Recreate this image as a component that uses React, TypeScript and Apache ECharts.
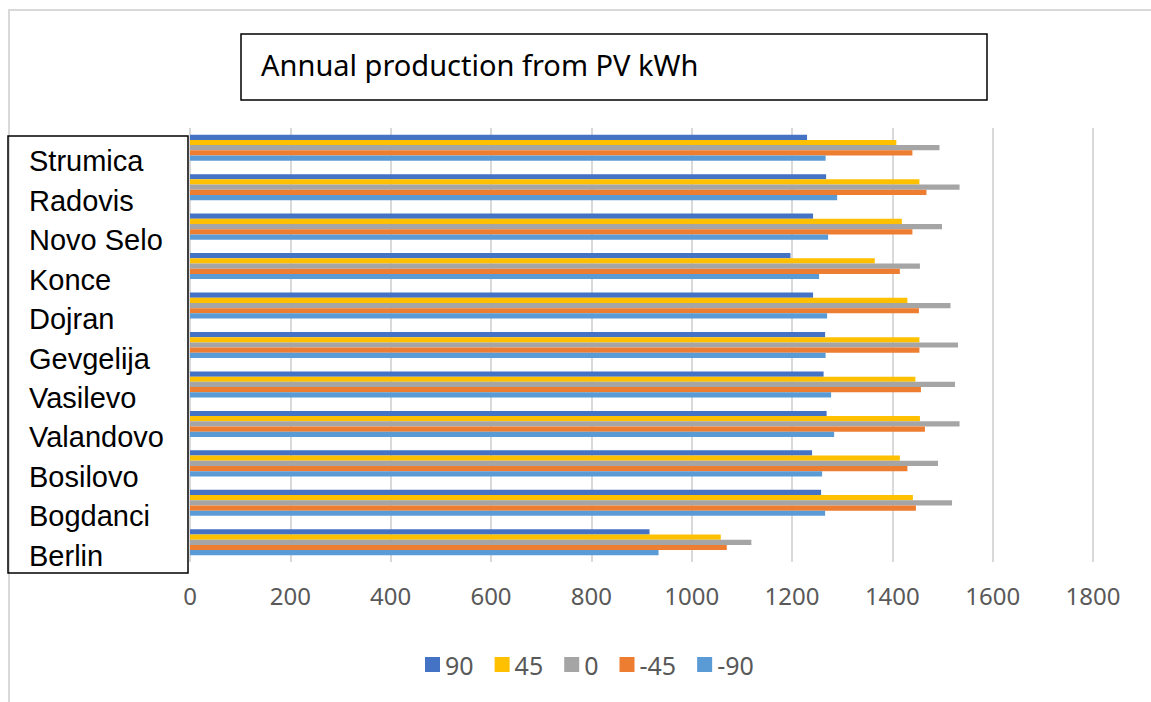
import React, { useEffect, useRef } from "react";
import * as echarts from "echarts";

// Towns, listed top to bottom
const towns = [
  "Strumica",
  "Radovis",
  "Novo Selo",
  "Konce",
  "Dojran",
  "Gevgelija",
  "Vasilevo",
  "Valandovo",
  "Bosilovo",
  "Bogdanci",
  "Berlin",
];

// Panel tilt/orientation series names
const seriesNames = ["90", "45", "0", "-45", "-90"];

// Annual production (kWh) per town, one array per orientation
const prod90 = [1230, 1268, 1242, 1197, 1242, 1266, 1263, 1269, 1240, 1258, 916];
const prod45 = [1408, 1454, 1419, 1365, 1430, 1454, 1446, 1455, 1415, 1441, 1058];
const prod0 = [1494, 1534, 1499, 1455, 1516, 1531, 1525, 1534, 1491, 1519, 1119];
const prodM45 = [1440, 1468, 1440, 1415, 1453, 1454, 1457, 1465, 1430, 1447, 1070];
const prodM90 = [1267, 1290, 1272, 1254, 1270, 1267, 1278, 1284, 1260, 1266, 934];

const xTicks = { min: 0, max: 1800, interval: 200 };

const colors = ["#4472C4", "#FFC000", "#A5A5A5", "#ED7D31", "#5B9BD5"];

export default function App() {
  const ref = useRef<HTMLDivElement>(null);

  useEffect(() => {
    if (!ref.current) return;
    const chart = echarts.init(ref.current, null, { renderer: "svg" });
    const values = [prod90, prod45, prod0, prodM45, prodM90];

    chart.setOption({
      animation: false,
      backgroundColor: "#ffffff",
      color: colors,
      textStyle: { fontFamily: "Noto Sans" },
      grid: { left: 190, right: 58, top: 128, bottom: 140, containLabel: false },
      xAxis: {
        type: "value",
        min: xTicks.min,
        max: xTicks.max,
        interval: xTicks.interval,
        axisLine: { show: false },
        axisTick: { show: false },
        splitLine: { show: true, lineStyle: { color: "#d9d9d9", width: 2 } },
        axisLabel: {
          color: "#595959",
          fontSize: 24,
          fontFamily: "Noto Sans",
          margin: 21,
          formatter: (v: number) => String(v),
        },
      },
      yAxis: {
        type: "category",
        inverse: true,
        data: towns,
        axisLine: { show: false },
        axisTick: { show: false },
        splitLine: { show: false },
        axisLabel: {
          align: "left",
          verticalAlign: "top",
          lineHeight: 27,
          margin: 161,
          color: "#000000",
          fontSize: 29,
          fontFamily: "Liberation Sans",
        },
      },
      legend: {
        data: seriesNames,
        left: 420,
        top: 647,
        itemWidth: 15,
        itemHeight: 15,
        itemGap: 21,
        icon: "rect",
        textStyle: { color: "#595959", fontSize: 25, fontFamily: "Noto Sans" },
      },
      series: seriesNames.map((name, i) => ({
        name,
        type: "bar",
        data: values[i],
        barGap: "0%",
        barCategoryGap: "34%",
        itemStyle: { color: colors[i] },
      })),
      graphic: [
        {
          type: "polyline",
          silent: true,
          shape: { points: [[9, 702], [9, 10], [1151, 10]] },
          style: { stroke: "#d9d9d9", lineWidth: 2, fill: null },
        },
        {
          type: "rect",
          silent: true,
          shape: { x: 241, y: 34, width: 746, height: 66 },
          style: { stroke: "#000000", lineWidth: 1.5, fill: null },
        },
        {
          type: "text",
          silent: true,
          x: 261,
          y: 64,
          style: {
            text: "Annual production from PV kWh",
            fill: "#000000",
            fontSize: 29,
            fontFamily: "Noto Sans",
            verticalAlign: "middle",
            align: "left",
          },
        },
        {
          type: "rect",
          silent: true,
          shape: { x: 8, y: 136, width: 180, height: 437 },
          style: { stroke: "#000000", lineWidth: 1.5, fill: null },
        },
      ],
    });

    return () => chart.dispose();
  }, []);

  return (
    <div
      ref={ref}
      style={{ position: "fixed", left: 0, top: 0, width: 1151, height: 702 }}
    />
  );
}
